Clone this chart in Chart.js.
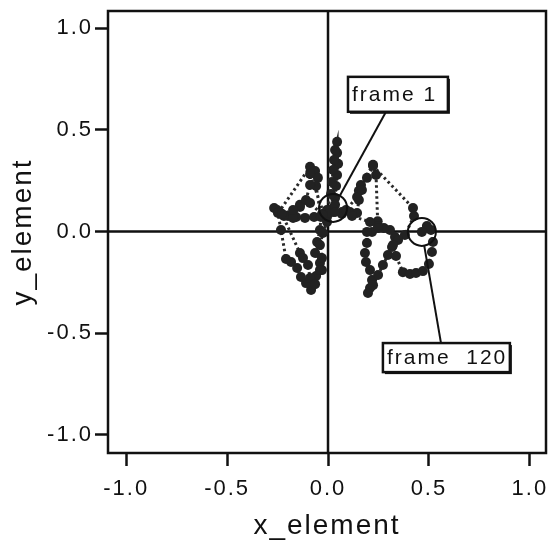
<!DOCTYPE html>
<html>
<head>
<meta charset="utf-8">
<script src="https://cdn.jsdelivr.net/npm/chart.js@4.4.1/dist/chart.umd.min.js"></script>
<style>
html,body{margin:0;padding:0;background:#fff;}
#wrap{width:552px;height:543px;}
</style>
</head>
<body>
<div id="wrap"><canvas id="c" width="552" height="543"></canvas></div>
<script>
// ---- data ----
const xElement = [0.025,0.035,0.040,0.045,0.050,0.045,0.045,0.035,0.030,0.025,0.020,0.015,
-0.005,-0.030,-0.069,-0.114,-0.158,-0.198,-0.228,-0.252,-0.267,-0.243,
-0.089,-0.064,-0.050,-0.059,-0.035,-0.040,-0.054,-0.064,
-0.040,-0.030,-0.059,-0.079,-0.084,-0.109,-0.134,-0.153,-0.183,-0.208,
-0.233,-0.248,-0.218,-0.173,-0.139,-0.109,-0.089,-0.089,
-0.020,0.025,0.069,0.109,0.144,0.153,0.153,0.163,0.223,0.238,0.246,0.248,0.218,0.193,0.193,0.183,0.188,0.208,0.218,0.208,0.198,
0.223,0.248,0.272,0.297,0.317,0.332,0.307,0.277,0.248,0.208,
0.119,0.069,0.035,0.000,-0.025,-0.089,-0.139,-0.173,-0.228,
-0.139,-0.124,-0.099,-0.089,-0.064,-0.040,-0.030,-0.040,-0.025,-0.005,0.035,0.089,
0.144,0.168,0.193,0.223,0.421,0.426,0.381,0.347,0.322,0.337,0.371,0.406,0.436,0.470,0.500,0.515,0.520,0.510,0.490,0.465];
const yElement = [0.116,0.165,0.224,0.278,0.333,0.387,0.441,0.401,0.352,0.303,0.244,0.185,
0.106,0.086,0.071,0.067,0.071,0.076,0.086,0.106,0.116,0.096,
0.318,0.298,0.264,0.224,0.071,0.007,-0.052,-0.106,
-0.155,-0.190,-0.219,-0.264,-0.288,-0.254,-0.224,-0.180,-0.150,-0.135,
0.007,0.091,0.076,0.067,0.131,0.155,0.229,0.283,
0.086,0.096,0.086,0.096,0.091,0.155,0.200,0.229,0.328,0.278,0.050,0.027,-0.002,-0.002,-0.057,-0.106,-0.150,-0.190,-0.239,-0.278,-0.303,
-0.264,-0.214,-0.165,-0.116,-0.076,-0.027,0.007,0.017,0.017,0.047,
0.076,0.096,0.131,0.086,0.081,0.140,0.121,0.106,0.086,
-0.106,-0.131,-0.165,-0.229,-0.259,-0.190,-0.131,-0.067,-0.007,0.047,0.096,0.106,
0.170,0.204,0.264,0.323,0.116,0.076,-0.017,-0.042,-0.067,-0.121,-0.200,-0.209,-0.204,-0.195,-0.160,-0.101,-0.052,0.007,0.027,-0.002];
const xTicks = [-1.0,-0.5,0.0,0.5,1.0];
const yTicks = [-1.0,-0.5,0.0,0.5,1.0];
const xRange = [-1.09, 1.08];
const yRange = [-1.09, 1.085];
const firstLabel = 'frame 1';
const lastLabel = 'frame  120';

const points = xElement.map((x,i)=>({x:x, y:yElement[i]}));

const FONT = "'Liberation Sans', Arial, Helvetica, sans-serif";

const decor = {
  id:'decor',
  beforeDraw(chart){ chart.ctx.letterSpacing = '2px'; },
  beforeDatasetsDraw(chart){
    const {ctx, chartArea:a, scales:{x,y}} = chart;
    ctx.save();
    ctx.strokeStyle = '#111'; ctx.lineWidth = 2.5;
    ctx.beginPath();
    const x0 = x.getPixelForValue(0), y0 = y.getPixelForValue(0);
    ctx.moveTo(x0, a.top); ctx.lineTo(x0, a.bottom);
    ctx.moveTo(a.left, y0); ctx.lineTo(a.right, y0);
    ctx.stroke();
    ctx.restore();
  },
  afterDatasetsDraw(chart){
    const {ctx, scales:{x,y}} = chart;
    ctx.save();
    ctx.letterSpacing = '2px';
    const n = points.length;
    const p1 = {x:x.getPixelForValue(points[0].x), y:y.getPixelForValue(points[0].y)};
    const pN = {x:x.getPixelForValue(points[n-1].x), y:y.getPixelForValue(points[n-1].y)};
    const R = 14;
    ctx.strokeStyle = '#111'; ctx.lineWidth = 2;
    [p1,pN].forEach(p=>{ ctx.beginPath(); ctx.arc(p.x,p.y,R,0,Math.PI*2); ctx.stroke(); });

    function box(x1v,y1v,x2v,y2v,text,anchor){
      const bx1 = x.getPixelForValue(x1v), bx2 = x.getPixelForValue(x2v);
      const by1 = y.getPixelForValue(y1v), by2 = y.getPixelForValue(y2v);
      const dx = anchor.p.x - anchor.sx, dy = anchor.p.y - anchor.sy;
      const L = Math.hypot(dx,dy);
      ctx.beginPath();
      ctx.lineWidth = 2;
      ctx.moveTo(anchor.sx, anchor.sy);
      ctx.lineTo(anchor.p.x - dx/L*R, anchor.p.y - dy/L*R);
      ctx.stroke();
      ctx.fillStyle = '#111';
      ctx.fillRect(bx1+2, by1+2, bx2-bx1, by2-by1);
      ctx.fillStyle = '#fff';
      ctx.fillRect(bx1, by1, bx2-bx1, by2-by1);
      ctx.lineWidth = 2.5;
      ctx.strokeRect(bx1, by1, bx2-bx1, by2-by1);
      ctx.fillStyle = '#111';
      ctx.font = '21px ' + FONT;
      ctx.textAlign = 'left'; ctx.textBaseline = 'middle';
      ctx.fillText(text, bx1+4, (by1+by2)/2+1);
    }
    const b1 = {x1:0.099, y1:0.761, x2:0.594, y2:0.589};
    box(b1.x1,b1.y1,b1.x2,b1.y2, firstLabel, {sx:386, sy:y.getPixelForValue(b1.y2), p:p1});
    const b2 = {x1:0.272, y1:-0.549, x2:0.901, y2:-0.692};
    box(b2.x1,b2.y1,b2.x2,b2.y2, lastLabel, {sx:441, sy:y.getPixelForValue(b2.y1), p:pN});
    ctx.restore();
  },
  afterDraw(chart){
    const {ctx, chartArea:a} = chart;
    ctx.save();
    ctx.strokeStyle = '#111'; ctx.lineWidth = 2.5;
    ctx.strokeRect(a.left, a.top, a.right-a.left, a.bottom-a.top);
    ctx.restore();
  }
};

function axis(range, ticks, title, size, isX){
  return {
    type:'linear', min:range[0], max:range[1],
    afterBuildTicks(s){ s.ticks = ticks.map(v=>({value:v})); },
    afterFit(s){
      if(isX){ s.height = size; s.paddingLeft = 0; s.paddingRight = 0; }
      else { s.width = size; s.paddingTop = 0; s.paddingBottom = 0; }
    },
    grid:{display:true, drawOnChartArea:false, drawTicks:true, tickLength:13, tickColor:'#111', tickWidth:2.5, color:'#111'},
    border:{display:false},
    ticks:{color:'#111', font:{family:FONT, size:22}, padding: isX ? 10 : 2,
      callback:v=>Number(v).toFixed(1), autoSkip:false, maxRotation:0},
    title:{display:true, text:title, color:'#111', font:{family:FONT, size:28},
      padding: isX ? {top:0,bottom:0} : {top:6,bottom:0}}
  };
}

new Chart(document.getElementById('c'), {
  type:'scatter',
  data:{datasets:[{
    data:points, showLine:true,
    borderColor:'#2a2a2a', borderWidth:3, borderDash:[2.5,3],
    pointRadius:5, pointBackgroundColor:'#222', pointBorderWidth:0,
    tension:0
  }]},
  options:{
    responsive:false, animation:false, devicePixelRatio:1,
    layout:{padding:{left:0, right:6, top:11, bottom:0}},
    plugins:{legend:{display:false}, tooltip:{enabled:false}},
    scales:{
      x: axis(xRange, xTicks, 'x_element', 90, true),
      y: axis(yRange, yTicks, 'y_element', 108, false)
    }
  },
  plugins:[decor]
});
</script>
</body>
</html>
